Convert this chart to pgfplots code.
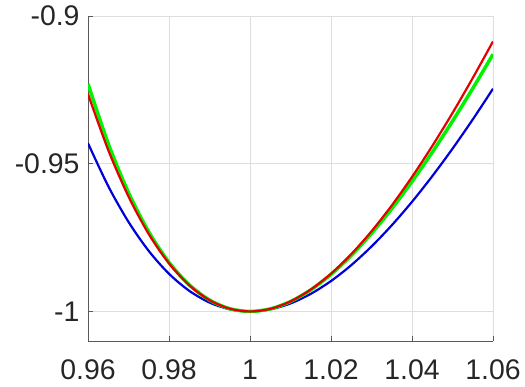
\documentclass[border=0pt]{standalone}
\usepackage{pgfplots}
\pgfplotsset{compat=1.18}
\usepackage{fontspec}
\setmainfont{Liberation Sans}
\definecolor{ticktext}{rgb}{0.15,0.15,0.15}
\definecolor{gridgray}{rgb}{0.87,0.87,0.87}
\definecolor{axgray}{rgb}{0.35,0.35,0.35}
\definecolor{mred}{rgb}{0.9,0,0}
\definecolor{mgreen}{rgb}{0,0.95,0}
\definecolor{mblue}{rgb}{0,0,0.85}

\begin{document}
\begin{tikzpicture}
\useasboundingbox (0,0) rectangle (525bp,387bp);
\begin{axis}[
  at={(88bp,46bp)}, anchor=south west,
  scale only axis,
  width=405bp, height=325bp,
  xmin=0.96, xmax=1.06,
  ymin=-1.01, ymax=-0.9,
  xtick={0.96,0.98,1,1.02,1.04,1.06},
  xticklabels={0.96,0.98,1,1.02,1.04,1.06},
  ytick={-1,-0.95,-0.9},
  yticklabels={-1,-0.95,-0.9},
  axis x line*=bottom,
  axis y line*=left,
  axis line style={-, draw=axgray, line width=1pt},
  tick style={draw=axgray, line width=0.8pt},
  tick align=inside,
  major tick length=5bp,
  grid=major,
  major grid style={draw=gridgray, line width=0.8pt},
  tick label style={font=\fontsize{28.5}{32}\selectfont, text=ticktext},
  xticklabel style={yshift=-15bp},
  yticklabel style={xshift=-5bp},
  /pgf/number format/assume math mode=true,
]
\addplot[mblue, line width=2.2pt, smooth] coordinates {
(0.960,-0.94306) (0.965,-0.95760) (0.970,-0.96969) (0.975,-0.97952)
(0.980,-0.98725) (0.985,-0.99302) (0.990,-0.99698) (0.995,-0.99927)
(1.000,-1.00000) (1.005,-0.99930) (1.010,-0.99729) (1.015,-0.99405)
(1.020,-0.98970) (1.025,-0.98433) (1.030,-0.97801) (1.035,-0.97084)
(1.040,-0.96289) (1.045,-0.95422) (1.050,-0.94491) (1.055,-0.93502)
(1.060,-0.92461)
};
\addplot[mgreen, line width=3.5pt, smooth] coordinates {
(0.960,-0.92298) (0.965,-0.94320) (0.970,-0.95979) (0.975,-0.97309)
(0.980,-0.98339) (0.985,-0.99099) (0.990,-0.99614) (0.995,-0.99907)
(1.000,-1.00000) (1.005,-0.99913) (1.010,-0.99664) (1.015,-0.99270)
(1.020,-0.98745) (1.025,-0.98104) (1.030,-0.97359) (1.035,-0.96522)
(1.040,-0.95603) (1.045,-0.94613) (1.050,-0.93559) (1.055,-0.92451)
(1.060,-0.91295)
};
\addplot[mred, line width=2.2pt, smooth] coordinates {
(0.960,-0.92642) (0.965,-0.94539) (0.970,-0.96110) (0.975,-0.97381)
(0.980,-0.98374) (0.985,-0.99113) (0.990,-0.99618) (0.995,-0.99907)
(1.000,-1.00000) (1.005,-0.99913) (1.010,-0.99661) (1.015,-0.99259)
(1.020,-0.98721) (1.025,-0.98060) (1.030,-0.97286) (1.035,-0.96412)
(1.040,-0.95447) (1.045,-0.94401) (1.050,-0.93283) (1.055,-0.92099)
(1.060,-0.90860)
};
\end{axis}
\end{tikzpicture}
\end{document}
